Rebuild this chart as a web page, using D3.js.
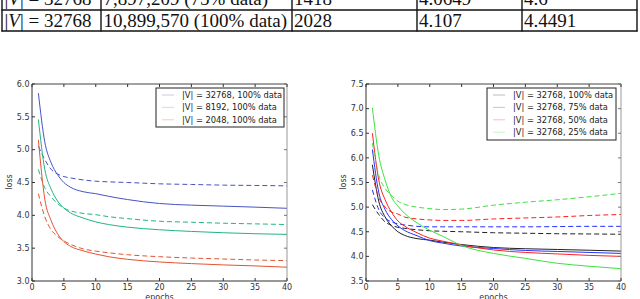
<!DOCTYPE html>
<html><head><meta charset="utf-8">
<script src="https://cdn.jsdelivr.net/npm/d3@7"></script>
<style>body{margin:0;background:#fff}svg{display:block}</style>
</head><body>
<script>
// ---- table fragment ----
const tableRows = [
  ["32768", "7,897,209 (75% data)", "1418", "4.0649", "4.6"],
  ["32768", "10,899,570 (100% data)", "2028", "4.107", "4.4491"]
];
// ---- chart data ----
const epochs = [1,2,3,4,5,6,8,10,12,15,20,25,30,35,40];
const xTicks = [0,5,10,15,20,25,30,35,40];
const leftYTicks = [3.0,3.5,4.0,4.5,5.0,5.5,6.0];
const rightYTicks = [3.5,4.0,4.5,5.0,5.5,6.0,6.5,7.0,7.5];

const v32768Train = [5.86,5.12,4.80,4.62,4.50,4.43,4.36,4.33,4.29,4.24,4.18,4.155,4.14,4.125,4.107];
const v32768Valid = [5.05,4.85,4.70,4.63,4.59,4.57,4.54,4.52,4.51,4.50,4.48,4.47,4.46,4.455,4.449];
const v8192Train  = [5.46,4.70,4.40,4.22,4.11,4.04,3.96,3.90,3.86,3.82,3.78,3.755,3.735,3.72,3.71];
const v8192Valid  = [4.70,4.42,4.28,4.18,4.11,4.07,4.03,4.01,3.98,3.95,3.91,3.895,3.88,3.87,3.86];
const v2048Train  = [5.15,4.25,3.92,3.72,3.60,3.53,3.46,3.41,3.37,3.33,3.29,3.265,3.245,3.23,3.21];
const v2048Valid  = [4.33,3.98,3.78,3.68,3.61,3.56,3.49,3.455,3.43,3.40,3.37,3.35,3.335,3.32,3.31];

const d75Train = [6.17,5.30,4.95,4.75,4.62,4.53,4.42,4.32,4.27,4.21,4.16,4.12,4.10,4.08,4.06];
const d75Valid = [5.35,4.95,4.78,4.70,4.66,4.64,4.61,4.60,4.60,4.60,4.60,4.60,4.605,4.61,4.61];
const d50Train = [6.50,5.55,5.15,4.90,4.72,4.62,4.48,4.37,4.31,4.23,4.13,4.08,4.05,4.02,4.00];
const d50Valid = [5.65,5.20,5.00,4.90,4.86,4.80,4.76,4.74,4.73,4.73,4.76,4.78,4.80,4.83,4.85];
const d25Train = [7.02,6.05,5.55,5.20,5.02,4.88,4.68,4.53,4.41,4.22,4.06,3.96,3.86,3.80,3.75];
const d25Valid = [6.30,5.65,5.38,5.24,5.12,5.06,5.00,4.97,4.95,4.96,5.04,5.10,5.15,5.21,5.28];

const leftLabels = ["|V| = 32768, 100% data","|V| = 8192, 100% data","|V| = 2048, 100% data"];
const rightLabels = ["|V| = 32768, 100% data","|V| = 32768, 75% data","|V| = 32768, 50% data","|V| = 32768, 25% data"];

const svg = d3.select("body").append("svg").attr("width",640).attr("height",299);

// ---- table ----
const tg = svg.append("g").attr("font-family","'Liberation Serif', serif").attr("font-size",19).attr("fill","#111");
const colX = [2,101,292,417,522,637];
const textX = [4.5,103.5,294,419,524];
const rowBase = [5,26.5];
tableRows.forEach((row,ri)=>{
  row.forEach((cell,ci)=>{
    const t = tg.append("text").attr("x",textX[ci]).attr("y",rowBase[ri]);
    if(ci===0){
      t.append("tspan").text("|");
      t.append("tspan").attr("font-style","italic").text("V");
      t.append("tspan").text("| = " + cell);
    } else t.text(cell);
  });
});
colX.forEach(x=>tg.append("line").attr("x1",x).attr("x2",x).attr("y1",0).attr("y2",31.5).attr("stroke","#111").attr("stroke-width",1.4));
[10,31].forEach(y=>tg.append("line").attr("x1",1.5).attr("x2",637.5).attr("y1",y).attr("y2",y).attr("stroke","#111").attr("stroke-width",1.5));

// ---- charts ----
function chart(opt){
  const x = d3.scaleLinear().domain([0,40]).range([opt.x0,opt.x1]);
  const y = d3.scaleLinear().domain(opt.yDomain).range([281,84]);
  const g = svg.append("g").attr("font-family","'DejaVu Sans', sans-serif");
  const line = d3.line().x((d,i)=>x(epochs[i])).y(d=>y(d)).curve(d3.curveMonotoneX);
  opt.series.forEach(s=>{
    g.append("path").attr("d",line(s.train)).attr("fill","none").attr("stroke",s.color).attr("stroke-width",1);
    g.append("path").attr("d",line(s.valid)).attr("fill","none").attr("stroke",s.color).attr("stroke-width",1).attr("stroke-dasharray","5,3");
  });
  // frame
  g.append("line").attr("x1",x(0)).attr("x2",x(0)).attr("y1",84).attr("y2",281).attr("stroke","#333");
  g.append("line").attr("x1",x(0)).attr("x2",x(40)).attr("y1",281).attr("y2",281).attr("stroke","#333");
  g.append("line").attr("x1",x(0)).attr("x2",x(40)).attr("y1",84).attr("y2",84).attr("stroke","#444");
  g.append("line").attr("x1",x(40)).attr("x2",x(40)).attr("y1",84).attr("y2",281).attr("stroke","#999");
  // ticks inward
  xTicks.forEach(t=>{
    g.append("line").attr("x1",x(t)).attr("x2",x(t)).attr("y1",281).attr("y2",278).attr("stroke","#333");
    g.append("line").attr("x1",x(t)).attr("x2",x(t)).attr("y1",84).attr("y2",87).attr("stroke","#333");
    g.append("text").attr("x",x(t)).attr("y",289.5).attr("text-anchor","middle").attr("font-size",8).attr("fill","#333").text(t);
  });
  opt.yTicks.forEach(t=>{
    g.append("line").attr("x1",x(0)).attr("x2",x(0)+3).attr("y1",y(t)).attr("y2",y(t)).attr("stroke","#333");
    g.append("line").attr("x1",x(40)).attr("x2",x(40)-3).attr("y1",y(t)).attr("y2",y(t)).attr("stroke","#777");
    g.append("text").attr("x",x(0)-2.5).attr("y",y(t)+2.8).attr("text-anchor","end").attr("font-size",8).attr("fill","#333").text(t.toFixed(1));
  });
  g.append("text").attr("x",(x(0)+x(40))/2).attr("y",299.5).attr("text-anchor","middle").attr("font-size",8).attr("fill","#333").text("epochs");
  g.append("text").attr("transform",`translate(${opt.lossX},182) rotate(-90)`).attr("text-anchor","middle").attr("font-size",8).attr("fill","#333").text("loss");
  // legend
  const L = opt.legend;
  g.append("rect").attr("x",L.x).attr("y",88).attr("width",L.w).attr("height",L.h).attr("fill","#fff").attr("stroke","#222").attr("stroke-width",1);
  opt.series.forEach((s,i)=>{
    const cy = 95 + i*12.4;
    g.append("line").attr("x1",L.x+6).attr("x2",L.x+18).attr("y1",cy).attr("y2",cy).attr("stroke",s.color).attr("stroke-opacity",0.3).attr("stroke-width",1);
    g.append("text").attr("x",L.x+26).attr("y",cy+2.9).attr("font-size",8.3).attr("fill","#222").text(s.label);
  });
}

chart({x0:32,x1:287,yDomain:[3,6],yTicks:leftYTicks,lossX:12,
  legend:{x:156,w:128,h:39},
  series:[
    {label:leftLabels[0],color:"#4654c4",train:v32768Train,valid:v32768Valid},
    {label:leftLabels[1],color:"#22b483",train:v8192Train,valid:v8192Valid},
    {label:leftLabels[2],color:"#e6532f",train:v2048Train,valid:v2048Valid}
  ]});
chart({x0:366,x1:621,yDomain:[3.5,7.5],yTicks:rightYTicks,lossX:346,
  legend:{x:487,w:129,h:52},
  series:[
    {label:rightLabels[0],color:"#222222",train:v32768Train,valid:v32768Valid},
    {label:rightLabels[1],color:"#2233ff",train:d75Train,valid:d75Valid},
    {label:rightLabels[2],color:"#ff2020",train:d50Train,valid:d50Valid},
    {label:rightLabels[3],color:"#40e040",train:d25Train,valid:d25Valid}
  ]});
</script>
</body></html>
